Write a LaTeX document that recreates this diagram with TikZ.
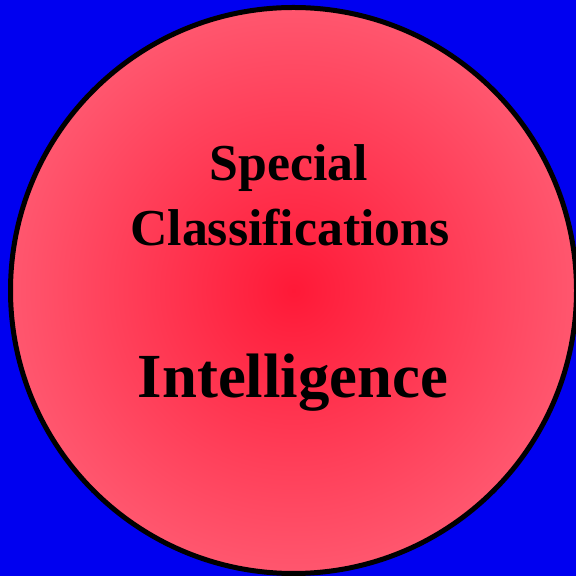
\documentclass[tikz,border=0pt]{standalone}
\usepackage{fontspec}
\setmainfont{Liberation Serif}
\definecolor{bgblue}{RGB}{0,0,240}
\definecolor{redcore}{RGB}{255,25,55}
\definecolor{redrim}{RGB}{255,94,117}
\pgfdeclareradialshading{redglow}{\pgfpoint{0bp}{0bp}}{color(0bp)=(redcore); color(4bp)=(redcore!85!redrim); color(28bp)=(redrim); color(50bp)=(redrim)}
\tikzset{
  label/.style={font=\bfseries, text=black, align=center, inner sep=0pt},
}
\begin{document}
\begin{tikzpicture}[x=1bp,y=1bp]
\useasboundingbox (0,0) rectangle (576,576);
\fill[bgblue] (0,0) rectangle (576,576);
\shade[shading=redglow] (293.5,285.5) circle (283);
\draw[line width=5bp, black] (293.5,285.5) circle (283);
\node[label, font=\fontsize{52}{65}\selectfont\bfseries, anchor=base] (special) at (289,395) {Special};
\node[label, font=\fontsize{52}{65}\selectfont\bfseries, anchor=base] (classif) at (290,330) {Classifications};
\node[label, font=\fontsize{63}{75}\selectfont\bfseries, anchor=base] (intel) at (293,178) {Intelligence};
\end{tikzpicture}
\end{document}
